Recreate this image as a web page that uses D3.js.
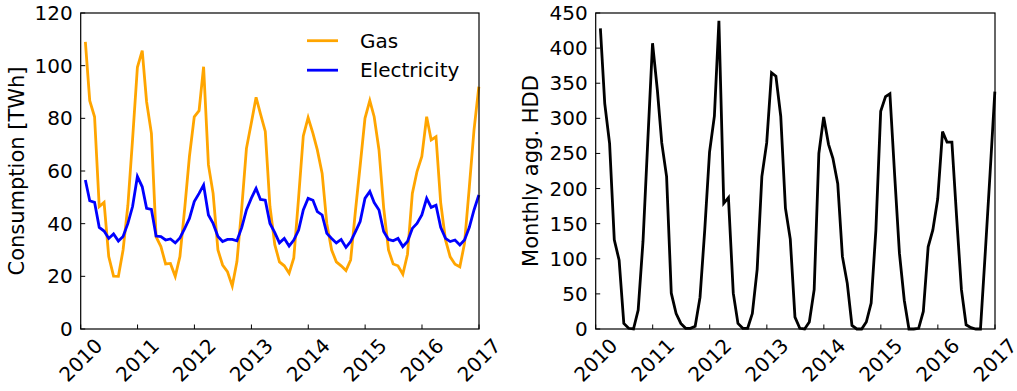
<!DOCTYPE html>
<html>
<head>
<meta charset="utf-8">
<script src="https://cdn.jsdelivr.net/npm/d3@7.9.0/dist/d3.min.js"></script>
<style>
  body { margin: 0; background: #fff; }
  svg { display: block; font-family: "DejaVu Sans", sans-serif; }
</style>
</head>
<body>
<svg id="chart" width="1017" height="391"></svg>
<script>
// monthly values, Jan 2010 .. Dec 2016
const gas = [
  109, 86.7, 80.6, 46.5, 48.1, 27.5, 20.1, 20, 30, 47, 72, 99.4,
  105.7, 86.3, 74.3, 35, 31.3, 24.7, 24.9, 20, 27.5, 46, 65.5, 80.6,
  82.9, 99.6, 62.3, 51.5, 30, 24.3, 21.8, 16.3, 25.6, 46, 68.6, 78.1,
  88, 81.7, 75, 46.5, 32, 25.5, 24, 21.2, 27, 50, 73.3, 80.3,
  74.3, 68, 59.1, 40, 30, 25.5, 24, 22.2, 26.2, 45, 62, 80,
  86.7, 80.6, 68, 46, 30, 24.7, 24, 20.8, 28.4, 51.5, 59.8, 65.5,
  80.6, 71.8, 73, 48, 33.8, 27.4, 24.6, 23.6, 32.5, 54, 75.6, 92
];
const electricity = [
  56.6, 48.7, 48.1, 38.6, 37.2, 34.4, 36.1, 33.4, 35.1, 40.1, 46.5, 57.9,
  54, 45.8, 45.4, 35.3, 35.1, 33.8, 34.2, 32.7, 34.6, 38.2, 42, 48.4,
  51.5, 54.7, 43.3, 40.1, 35.1, 33.2, 34, 34, 33.5, 38.6, 45.2, 49.6,
  53.4, 49.2, 48.9, 40.1, 36.6, 32.7, 34.4, 31.5, 33.8, 37.6, 45.2, 49.6,
  48.9, 44.6, 43.3, 36.3, 34.4, 32.7, 34, 31, 33.2, 37, 40.8, 49.6,
  52.2, 48, 45.2, 37, 34, 33.5, 34.4, 31.3, 33.2, 38.2, 40.1, 43.3,
  49.6, 46.2, 47, 38.6, 34.4, 33.2, 33.8, 31.9, 33.8, 38.6, 45.2, 50.9
];
const hdd = [
  428, 321, 264, 127, 98, 8, 1, 0, 27, 125, 265, 407,
  340, 265, 217, 51, 22, 8, 1, 1, 4, 45, 140, 252,
  303, 439, 179, 187, 51, 8, 1, 1, 22, 85, 217, 265,
  365, 360, 303, 172, 128, 17, 1, 0, 10, 56, 250, 302,
  263, 243, 207, 103, 65, 5, 0, 0, 10, 37, 140, 310,
  331, 335, 217, 108, 41, 0, 0, 1, 25, 117, 141, 185,
  281, 266, 266, 160, 56, 6, 2, 0, 0, 110, 220, 338
];
const yearTicks = [2010, 2011, 2012, 2013, 2014, 2015, 2016, 2017];
const consumptionTicks = [0, 20, 40, 60, 80, 100, 120];
const hddTicks = [0, 50, 100, 150, 200, 250, 300, 350, 400, 450];

// month-end dates
const dates = gas.map((_, i) => new Date(2010, i + 1, 0));

const svg = d3.select("#chart");
const fontSize = 20;
const labelSize = 21;

function panel(left, right, yMax, yTickVals, yLabel, labelX, series) {
  const top = 13, bottom = 329;
  const x = d3.scaleTime()
    .domain([new Date(2010, 0, 1), new Date(2017, 0, 1)])
    .range([left, right]);
  const y = d3.scaleLinear().domain([0, yMax]).range([bottom, top]);
  const g = svg.append("g");

  series.forEach(s => {
    const line = d3.line()
      .x((d, i) => x(dates[i]))
      .y(d => y(d));
    g.append("path")
      .datum(s.values)
      .attr("d", line)
      .attr("fill", "none")
      .attr("stroke", s.color)
      .attr("stroke-width", 2.8)
      .attr("stroke-linejoin", "miter");
  });

  // frame
  g.append("rect")
    .attr("x", left).attr("y", top)
    .attr("width", right - left).attr("height", bottom - top)
    .attr("fill", "none").attr("stroke", "#000").attr("stroke-width", 1.2);

  // y ticks
  yTickVals.forEach(v => {
    g.append("line")
      .attr("x1", left).attr("x2", left + 4.5)
      .attr("y1", y(v)).attr("y2", y(v))
      .attr("stroke", "#000");
    g.append("text")
      .attr("x", left - 8).attr("y", y(v))
      .attr("text-anchor", "end")
      .attr("dominant-baseline", "central")
      .attr("font-size", fontSize)
      .text(v);
  });

  // x ticks
  yearTicks.forEach(yr => {
    const xx = x(new Date(yr, 0, 1));
    g.append("line")
      .attr("x1", xx).attr("x2", xx)
      .attr("y1", bottom).attr("y2", bottom - 4.5)
      .attr("stroke", "#000");
    g.append("text")
      .attr("transform", `translate(${xx},${bottom + 31}) rotate(-45)`)
      .attr("text-anchor", "middle")
      .attr("dominant-baseline", "central")
      .attr("font-size", fontSize)
      .text(yr);
  });

  g.append("text")
    .attr("transform", `translate(${labelX},${(top + bottom) / 2}) rotate(-90)`)
    .attr("text-anchor", "middle")
    .attr("dominant-baseline", "central")
    .attr("font-size", labelSize)
    .text(yLabel);
  return { x, y, g };
}

panel(80.7, 479, 120, consumptionTicks, "Consumption [TWh]", 16.5, [
  { values: gas, color: "#FFA500", name: "Gas" },
  { values: electricity, color: "#0000FF", name: "Electricity" }
]);

panel(595.7, 995, 450, hddTicks, "Monthly agg. HDD", 530.5, [
  { values: hdd, color: "#000000" }
]);

// legend
const legendItems = [
  { name: "Gas", color: "#FFA500" },
  { name: "Electricity", color: "#0000FF" }
];
legendItems.forEach((d, i) => {
  const ly = 40.7 + i * 29.5;
  svg.append("line")
    .attr("x1", 307).attr("x2", 338)
    .attr("y1", ly).attr("y2", ly)
    .attr("stroke", d.color).attr("stroke-width", 2.8);
  svg.append("text")
    .attr("x", 360).attr("y", ly)
    .attr("dominant-baseline", "central")
    .attr("font-size", fontSize)
    .text(d.name);
});
</script>
</body>
</html>
